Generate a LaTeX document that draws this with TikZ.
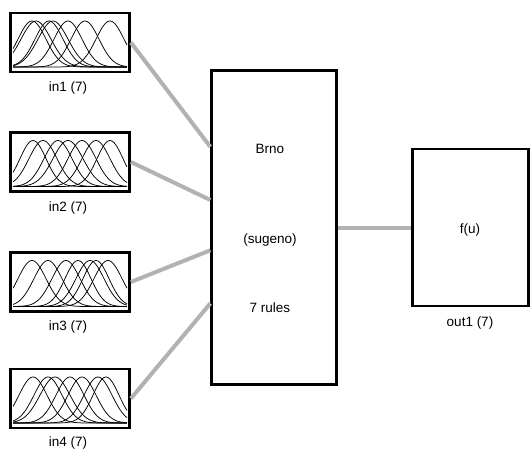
\documentclass[tikz,border=0pt]{standalone}
\usepackage{fontspec}
\setmainfont{Liberation Sans}
\usetikzlibrary{calc}
\tikzset{
  mfbox/.style={draw, line width=2.8pt, minimum width=119pt, minimum height=59pt, inner sep=0pt},
  blockbox/.style={draw, line width=2.4pt, inner sep=0pt},
  lbl/.style={font=\fontsize{13.5}{15}\selectfont, inner sep=0pt},
  wire/.style={draw=black!30, line width=4pt},
  mf/.style={line width=0.75pt},
}
% Gaussian membership functions inside an input box:
% #1 = box centre x, #2 = box centre y, #3 = list of centre/spread pairs
\newcommand{\mfcurves}[3]{%
  \begin{scope}
    \clip ({#1-57},{#2-27}) rectangle ({#1+57},{#2+27});
    \foreach \c/\s in {#3}
      \draw[mf] plot[domain={#1-57}:{#1+57}, samples=80, smooth]
        (\x, {#2+24.5-46*exp(-((\x-\c)*(\x-\c))/(2*\s*\s))});
  \end{scope}}
\begin{document}
\begin{tikzpicture}[x=1pt, y=-1pt]
  \useasboundingbox (0,0) rectangle (531,451);

  % input membership-function blocks
  \node[mfbox] (in1) at (70,42.5) {};
  \node[mfbox] (in2) at (70,162) {};
  \node[mfbox] (in3) at (70,282) {};
  \node[mfbox] (in4) at (70,398.5) {};

  \mfcurves{70}{42.5}{32/14, 36/15, 49/14, 53/15, 68/14, 85/14, 110/14}
  \mfcurves{70}{162}{33/13, 43/14, 58/14, 68/15, 82/14, 96/14, 110/13}
  \mfcurves{70}{282}{32/14, 48/14, 66/14, 78/13, 90/14, 96/13, 108/14}
  \mfcurves{70}{398.5}{33/14, 48/14, 55/15, 70/14, 82/14, 98/14, 106/13}

  \node[lbl] (l1) at (68,88) {in1 (7)};
  \node[lbl] (l2) at (68,208) {in2 (7)};
  \node[lbl] (l3) at (68,327) {in3 (7)};
  \node[lbl] (l4) at (68,443) {in4 (7)};

  % rule-base block
  \node[blockbox, minimum width=125pt, minimum height=314pt] (fis) at (274,227.5) {};
  \node[lbl] (t1) at (270,149) {Brno};
  \node[lbl] (t2) at (270,240) {(sugeno)};
  \node[lbl] (t3) at (270,308) {7 rules};

  % output block
  \node[blockbox, minimum width=116pt, minimum height=157pt] (out) at (470.5,227.5) {};
  \node[lbl] (fu) at (470,230) {f(u)};
  \node[lbl] (lo) at (470,323) {out1 (7)};

  % input ports on the rule-base block
  \coordinate (p1) at ($(fis.north west)!0.245!(fis.south west)$);
  \coordinate (p2) at ($(fis.north west)!0.413!(fis.south west)$);
  \coordinate (p3) at ($(fis.north west)!0.572!(fis.south west)$);
  \coordinate (p4) at ($(fis.north west)!0.74!(fis.south west)$);

  % connectors
  \draw[wire] (in1.east) -- (p1);
  \draw[wire] (in2.east) -- (p2);
  \draw[wire] (in3.east) -- (p3);
  \draw[wire] (in4.east) -- (p4);
  \draw[wire] (fis.east) -- (out.west);
\end{tikzpicture}
\end{document}
